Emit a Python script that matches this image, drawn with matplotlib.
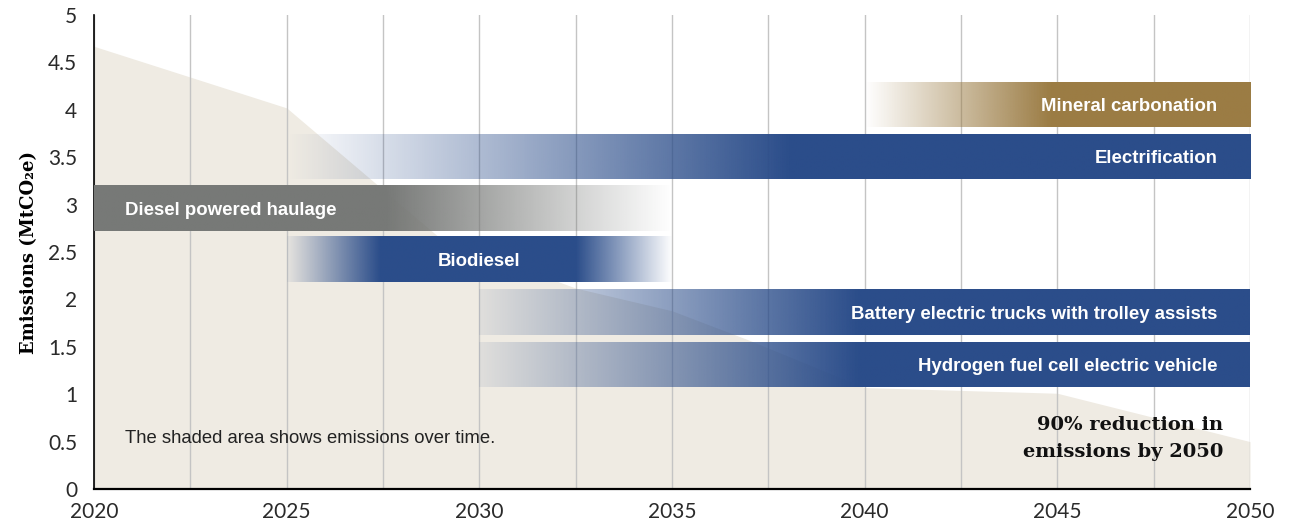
import numpy as np
import matplotlib
matplotlib.use('Agg')
import matplotlib.pyplot as plt
from matplotlib.colors import to_rgb

# emissions curve (shaded area)
area_years = [2020, 2025, 2029, 2032.5, 2035, 2037, 2040, 2045, 2050]
area_values = [4.67, 4.02, 2.64, 2.12, 1.88, 1.57, 1.07, 1.01, 0.50]

# technology bars
bar_names = ['Mineral carbonation', 'Electrification', 'Diesel powered haulage',
             'Biodiesel', 'Battery electric trucks with trolley assists',
             'Hydrogen fuel cell electric vehicle']
bar_start = [2040, 2025, 2020, 2025, 2030, 2030]
bar_end = [2050, 2050, 2035, 2035, 2050, 2050]
bar_low = [3.82, 3.27, 2.72, 2.18, 1.62, 1.08]
bar_high = [4.29, 3.74, 3.20, 2.66, 2.10, 1.55]

# styles: colour, alpha stops (x, alpha), label placement
bar_colors = ['#9b7c44', '#2b4d8a', '#777977', '#2b4d8a', '#2b4d8a', '#2b4d8a']
fade_x = [[2040, 2044.8], [2025, 2038], [2020, 2027.6, 2035],
          [2025, 2027.4, 2032.5, 2035], [2030, 2039.8], [2030, 2039.8]]
fade_a = [[0.0, 1.0], [0.0, 1.0], [1.0, 1.0, 0.0],
          [0.05, 1.0, 1.0, 0.0], [0.08, 1.0], [0.08, 1.0]]
label_x = [2049.15, 2049.15, 2020.8, 2030.0, 2049.15, 2049.15]
label_ha = ['right', 'right', 'left', 'center', 'right', 'right']

fig = plt.figure(figsize=(12.9, 5.27), dpi=100)
ax = fig.add_axes([94 / 1290, 38 / 527, 1156 / 1290, 474 / 527])

ax.fill_between(area_years, area_values, 0, color='#efebe3', lw=0, zorder=0.5)

for i, name in enumerate(bar_names):
    xs = np.linspace(bar_start[i], bar_end[i], 400)
    rgba = np.zeros((1, len(xs), 4))
    rgba[..., :3] = to_rgb(bar_colors[i])
    rgba[..., 3] = np.interp(xs, fade_x[i], fade_a[i])
    ax.imshow(rgba, extent=[bar_start[i], bar_end[i], bar_low[i], bar_high[i]],
              aspect='auto', interpolation='bilinear', zorder=3)
    ax.text(label_x[i], (bar_low[i] + bar_high[i]) / 2, name, color='white',
            fontsize=13.4, fontweight='bold', family='Liberation Sans',
            ha=label_ha[i], va='center_baseline', zorder=4)

ax.set_xlim(2020, 2050)
ax.set_ylim(0, 5)
ax.set_xticks(range(2020, 2051, 5))
ax.set_xticks(np.arange(2022.5, 2050.1, 5), minor=True)
ax.set_yticks(np.arange(0, 5.01, 0.5))
ax.set_yticklabels(['0', '0.5', '1', '1.5', '2', '2.5', '3', '3.5', '4', '4.5', '5'])
ax.grid(axis='x', which='both', color='#c4c4c4', lw=1, zorder=1)
ax.set_axisbelow(True)
ax.tick_params(axis='both', which='both', length=0, labelsize=15, colors='#2a2a2a')
ax.tick_params(axis='y', pad=12)
ax.tick_params(axis='x', pad=9)
for lab in ax.get_xticklabels() + ax.get_yticklabels():
    lab.set_family('Lato')

for side in ['top', 'right']:
    ax.spines[side].set_visible(False)
ax.spines['left'].set_linewidth(1.2)
ax.spines['bottom'].set_linewidth(1.6)

ax.set_ylabel('Emissions (MtCO₂e)', fontsize=13, fontweight='bold',
              family='DejaVu Serif', labelpad=7)

ax.text(2020.8, 0.53, 'The shaded area shows emissions over time.', fontsize=13.3,
        family='Liberation Sans', color='#222222', va='center')
ax.text(2049.3, 0.675, '90% reduction in', fontsize=14, fontweight='bold',
        family='DejaVu Serif', color='#111111', ha='right', va='center')
ax.text(2049.3, 0.39, 'emissions by 2050', fontsize=14, fontweight='bold',
        family='DejaVu Serif', color='#111111', ha='right', va='center')

fig.savefig('out.png', dpi=100)
